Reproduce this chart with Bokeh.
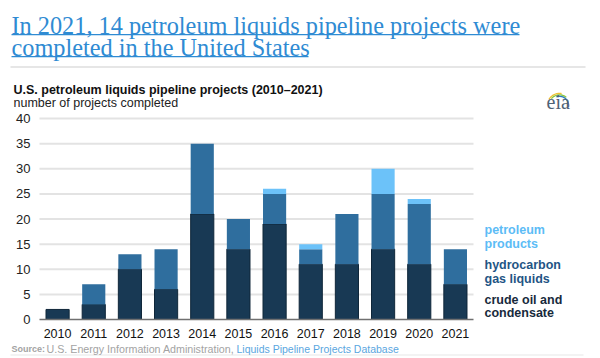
import math
from bokeh.plotting import figure
from bokeh.models import ColumnDataSource, Range1d, FixedTicker, Label
from bokeh.embed import file_html
from bokeh.resources import INLINE

# ---------------- data ----------------
years = [2010, 2011, 2012, 2013, 2014, 2015, 2016, 2017, 2018, 2019, 2020, 2021]
crude_oil = [2, 3, 10, 6, 21, 14, 19, 11, 11, 14, 11, 7]
hgl = [0, 4, 3, 8, 14, 6, 6, 3, 10, 11, 12, 7]
petroleum_products = [0, 0, 0, 0, 0, 0, 1, 1, 0, 5, 1, 0]
y_ticks = [0, 5, 10, 15, 20, 25, 30, 35, 40]

series_names = ["crude", "hgl", "petro"]
legend_lines = [["petroleum", "products"],
                ["hydrocarbon", "gas liquids"],
                ["crude oil and", "condensate"]]

title_lines = ["In 2021, 14 petroleum liquids pipeline projects were",
               "completed in the United States"]
chart_title = "U.S. petroleum liquids pipeline projects (2010\u20132021)"
subtitle = "number of projects completed"
source_parts = ["Source:", "U.S. Energy Information Administration,",
                "Liquids Pipeline Projects Database"]

# ---------------- layout constants (canvas px) ----------------
W, H = 600, 358
PLOT_L = 39          # left edge of the bar area
PLOT_T = 118         # y = 40 line
PLOT_B = 319         # y = 0 line
PX_PER_YEAR = 36.1667
Y_MAX = 40
BASE_K = 0.28        # label baseline compensation (fraction of font size)

C_CRUDE = "#183954"
C_HGL = "#2f6e9e"
C_PETRO = "#6cc2f9"
FONT = "Liberation Sans"

x_start = years[0] - 0.5
PX_PER_UNIT = (PLOT_B - PLOT_T) / Y_MAX


def dx(px):
    return x_start + (px - PLOT_L) / PX_PER_YEAR


def dy(py):
    return (PLOT_B - py) / PX_PER_UNIT


p = figure(width=W, height=H, x_range=Range1d(dx(0), dx(W)), y_range=Range1d(dy(H), dy(0)),
           output_backend="svg", toolbar_location=None, title_location=None,
           min_border=0)
p.outline_line_color = None
p.background_fill_color = "white"
p.border_fill_color = "white"
p.grid.visible = False

src = ColumnDataSource(dict(years=years, crude=crude_oil, hgl=hgl,
                            petro=petroleum_products))

# gridlines limited to the bar area
n_g = len(y_ticks) - 1
p.segment(x0=[years[0] - 0.5] * n_g, x1=[years[-1] + 0.5] * n_g,
          y0=y_ticks[1:], y1=y_ticks[1:], line_color="#e3e3e3", line_width=2)

p.vbar_stack(series_names, x="years", width=0.64, source=src,
             fill_color=[C_CRUDE, C_HGL, C_PETRO],
             line_color=["#0f2639", None, None], line_width=1)

# axes drawn at fixed data locations (take no border space)
p.yaxis.fixed_location = years[0] - 0.5
p.yaxis.ticker = FixedTicker(ticks=y_ticks)
p.yaxis.bounds = (y_ticks[0], y_ticks[-1])
p.yaxis.axis_line_color = None
p.yaxis.major_tick_line_color = None
p.yaxis.minor_tick_line_color = None
p.yaxis.major_label_text_font = FONT
p.yaxis.major_label_text_font_size = "13px"
p.yaxis.major_label_text_color = "#222222"
p.yaxis.major_label_standoff = 3

p.xaxis.fixed_location = 0
p.xaxis.ticker = FixedTicker(ticks=years)
p.xaxis.major_label_overrides = {y: str(y) for y in years}
p.xaxis.bounds = (years[0] - 0.5, years[-1] + 0.5)
p.xaxis.axis_line_color = "#707070"
p.xaxis.axis_line_width = 1.5
p.xaxis.major_tick_line_color = None
p.xaxis.minor_tick_line_color = None
p.xaxis.major_label_text_font = FONT
p.xaxis.major_label_text_font_size = "12.5px"
p.xaxis.major_label_text_color = "#111111"
p.xaxis.major_label_standoff = 3


def lbl(t, x, base, size, color, style="normal", font=FONT):
    y = base - BASE_K * size
    p.add_layout(Label(x=dx(x), y=dy(y), text=t, text_font=font,
                       text_font_size=f"{size}px",
                       text_color=color, text_font_style=style,
                       text_baseline="alphabetic", text_align="left"))


def rule(x0, x1, y0, y1, color):
    p.quad(left=dx(x0), right=dx(x1), top=dy(y0), bottom=dy(y1),
           fill_color=color, line_color=None)


# ---------------- header ----------------
TITLE_C = "#2f8bd3"
lbl(title_lines[0], 11, 32, 24.3, TITLE_C, font="Liberation Serif")
lbl(title_lines[1], 11, 54, 24.3, TITLE_C, font="Liberation Serif")
rule(11, 519, 33.6, 34.8, TITLE_C)
rule(11, 308, 55.6, 56.8, TITLE_C)
rule(10, 585, 65.5, 67.5, "#e6e6e6")
lbl(chart_title, 13, 93, 12.5, "#111111", style="bold")
lbl(subtitle, 13, 106, 12.5, "#222222")

# eia logo
lbl("eia", 546, 107, 20, "#4f6276", font="Liberation Serif")


def arc_band(cxp, cyp, r0, r1, a0, a1, color):
    n = 24
    outer = [(cxp + r1 * math.cos(math.radians(a0 + (a1 - a0) * i / n)),
              cyp - r1 * math.sin(math.radians(a0 + (a1 - a0) * i / n))) for i in range(n + 1)]
    inner = [(cxp + r0 * math.cos(math.radians(a1 - (a1 - a0) * i / n)),
              cyp - r0 * math.sin(math.radians(a1 - (a1 - a0) * i / n))) for i in range(n + 1)]
    pts = outer + inner
    p.patch([dx(a) for a, b in pts], [dy(b) for a, b in pts], fill_color=color, line_color=None)


arc_band(559, 105, 11.5, 12.8, 150, 80, "#f1c232")
arc_band(559, 105, 10.0, 11.3, 140, 50, "#8dc63f")
arc_band(559, 105, 8.5, 9.8, 110, -10, "#2b7bbb")

# ---------------- legend (coloured text) ----------------
LEG_C = ["#5cbcf6", "#1f5585", "#172a3c"]
leg_y = [(233, 247), (268, 282), (303, 316)]
for lines, c, ys in zip(legend_lines, LEG_C, leg_y):
    for t, yy in zip(lines, ys):
        lbl(t, 484, yy, 12.5, c, style="bold")

# ---------------- footer ----------------
lbl(source_parts[0], 11, 351, 9, "#a3a3a3", style="bold")
lbl(source_parts[1], 46, 351, 10.7, "#a3a3a3")
lbl(source_parts[2], 236, 351, 10.5, "#5aa6e0")
rule(10, 583, 354, 355, "#e8e8e8")

open("out.html", "w").write(file_html(p, INLINE))
